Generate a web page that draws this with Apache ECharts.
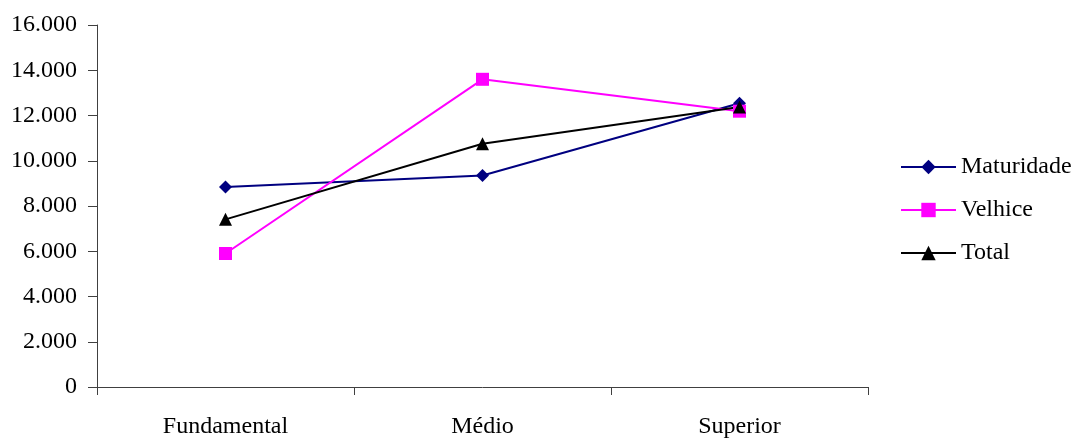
<!DOCTYPE html>
<html>
<head>
<meta charset="utf-8">
<script src="https://cdn.jsdelivr.net/npm/echarts@6/dist/echarts.min.js"></script>
<style>html,body{margin:0;padding:0;background:#fff}#c{width:1086px;height:439px}</style>
</head>
<body>
<div id="c"></div>
<script>
const categories = ['Fundamental', 'Médio', 'Superior'];
const maturidade = [8840, 9350, 12540];
const velhice = [5900, 13600, 12190];
const total = [7410, 10750, 12380];
const seriesNames = ['Maturidade', 'Velhice', 'Total'];

const FONT = '"Liberation Serif", "Times New Roman", serif';
const AXIS = '#404040';
const chart = echarts.init(document.getElementById('c'), null, {renderer: 'canvas'});
function fmt(v){ return v === 0 ? '0' : String(v).replace(/\B(?=(\d{3})+(?!\d))/g, '.'); }
chart.setOption({
  animation: false,
  backgroundColor: '#fff',
  grid: {left: 97, right: 218, top: 25, bottom: 51, containLabel: false},
  legend: {
    orient: 'vertical', left: 895, top: 150, itemGap: 19,
    itemWidth: 55, itemHeight: 18,
    lineStyle: {width: 2},
    textStyle: {fontFamily: FONT, fontSize: 24, color: '#000'},
    data: seriesNames
  },
  xAxis: {
    type: 'category', data: categories, boundaryGap: true,
    axisLine: {lineStyle: {color: AXIS, width: 1}},
    axisTick: {show: true, inside: false, length: 8, lineStyle: {color: AXIS}},
    axisLabel: {fontFamily: FONT, fontSize: 24, color: '#000', margin: 28},
    splitLine: {show: false}
  },
  yAxis: {
    type: 'value', min: 0, max: 16000, interval: 2000,
    axisLine: {show: true, lineStyle: {color: AXIS, width: 1}},
    axisTick: {show: true, length: 9, lineStyle: {color: AXIS}},
    axisLabel: {fontFamily: FONT, fontSize: 24, color: '#000', margin: 20, formatter: fmt},
    splitLine: {show: false}
  },
  series: [
    {name: 'Maturidade', type: 'line', data: maturidade, color: '#000080',
     symbol: 'diamond', symbolSize: 13, lineStyle: {width: 2, color: '#000080'},
     itemStyle: {color: '#000080'}},
    {name: 'Velhice', type: 'line', data: velhice, color: '#FF00FF',
     symbol: 'rect', symbolSize: 13, lineStyle: {width: 2, color: '#FF00FF'},
     itemStyle: {color: '#FF00FF'}},
    {name: 'Total', type: 'line', data: total, color: '#000000',
     symbol: 'triangle', symbolSize: 13, lineStyle: {width: 2, color: '#000'},
     itemStyle: {color: '#000'}}
  ]
});
</script>
</body>
</html>
